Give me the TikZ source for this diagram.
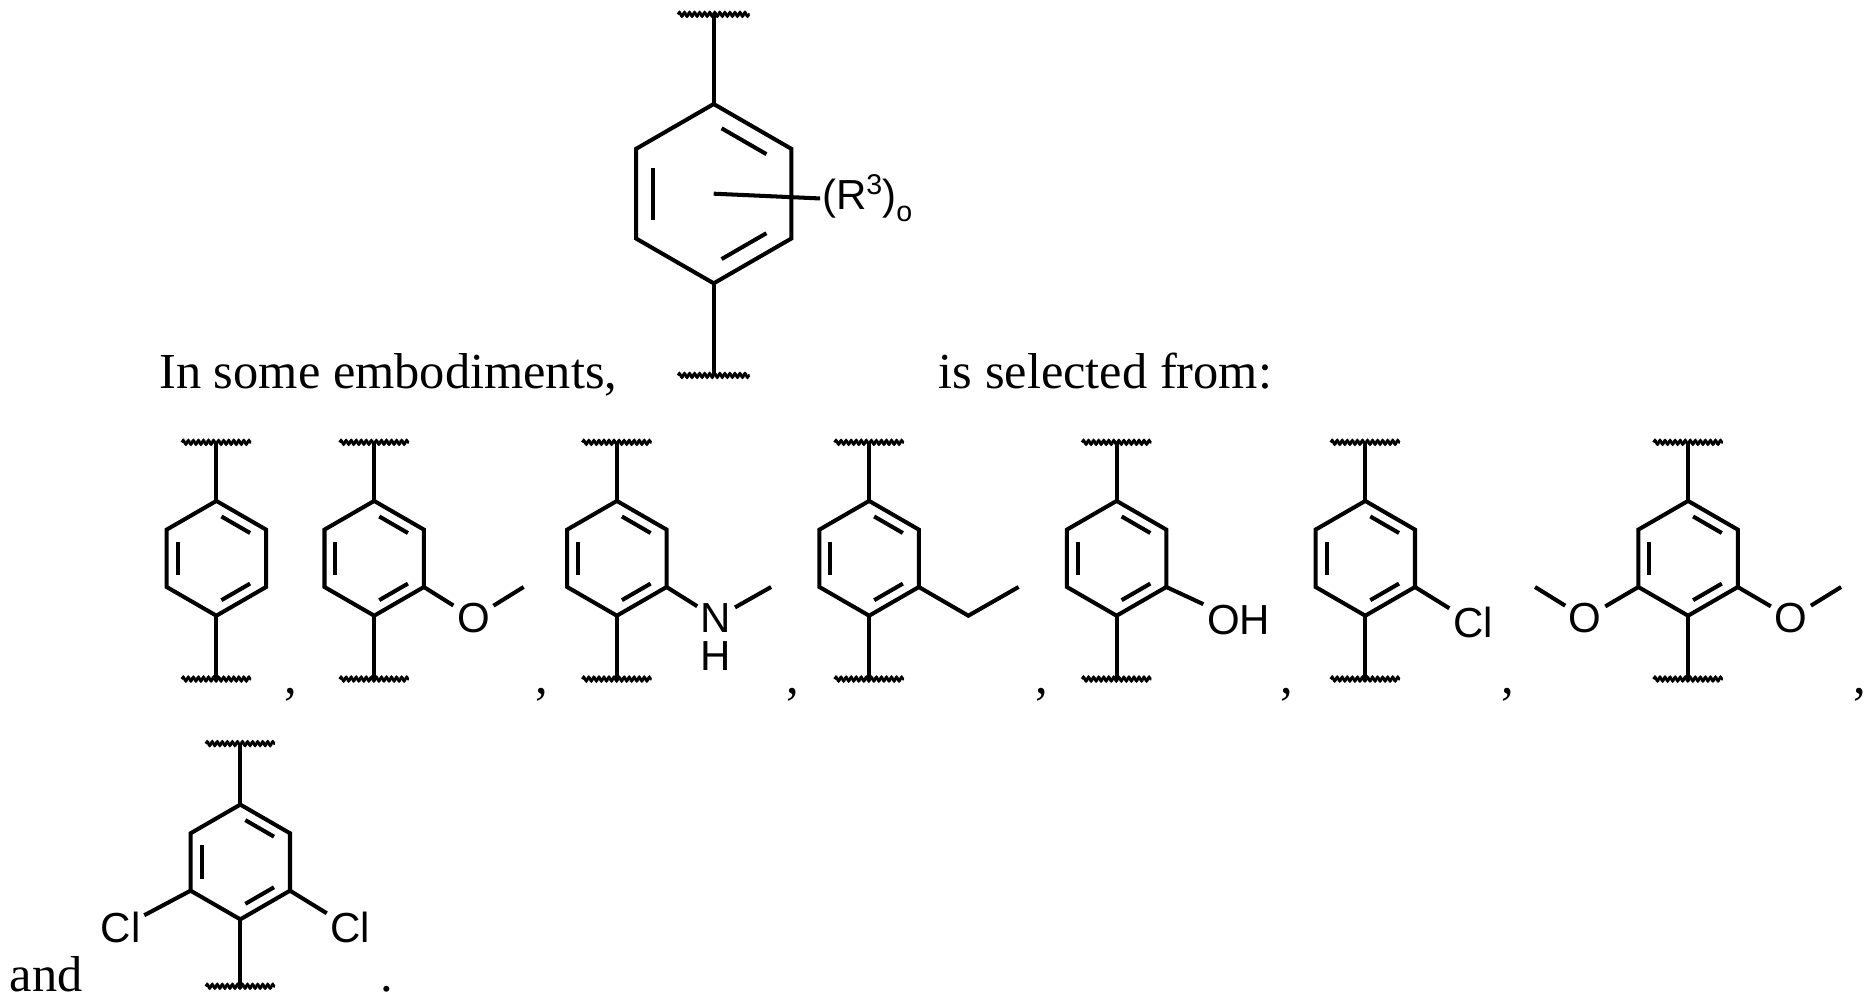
\documentclass[tikz,border=0pt]{standalone}
\usepackage{fontspec}
\setmainfont{Liberation Serif}
\setsansfont{Liberation Sans}
\usetikzlibrary{calc,decorations.pathmorphing}
\newcommand\Ring[4]{%
  \coordinate (#1c) at (#2,#3);
  \foreach \i/\a in {1/90,2/30,3/-30,4/-90,5/-150,6/150}{%
    \coordinate (#1v\i) at ($(#1c)+(\a:#4)$);
    \coordinate (#1i\i) at ($(#1c)+(\a:{0.78*#4})$);}
  \draw[bond] (#1v1)--(#1v2)--(#1v3)--(#1v4)--(#1v5)--(#1v6)--cycle;
  \draw[bond] ($(#1i1)!0.13!(#1i2)$)--($(#1i2)!0.13!(#1i1)$);
  \draw[bond] ($(#1i5)!0.13!(#1i6)$)--($(#1i6)!0.13!(#1i5)$);
  \draw[bond] ($(#1i3)!0.13!(#1i4)$)--($(#1i4)!0.13!(#1i3)$);}
\newcommand\Stems[5]{% name, x, ytop, ybottom, width
  \coordinate (#1t) at (#2,#3);
  \coordinate (#1b) at (#2,#4);
  \draw[bond] (#1v1)--(#1t);
  \draw[bond] (#1v4)--(#1b);
  \draw[wavy] ($(#1t)+(-#5/2,0)$)--($(#1t)+(#5/2,0)$);
  \draw[wavy] ($(#1b)+(-#5/2,0)$)--($(#1b)+(#5/2,0)$);}
\begin{document}
\begin{tikzpicture}[x=0.025cm,y=0.025cm,
  bond/.style={line width=2.4pt,line join=miter},
  wavy/.style={line width=1.6pt,decorate,decoration={snake,amplitude=1.2pt,segment length=3pt}},
  txt/.style={font=\fontsize{30}{36}\selectfont,anchor=base west,inner sep=0},
  atom/.style={font=\sffamily\fontsize{25}{28}\selectfont,inner sep=2pt}]
\useasboundingbox (0,0) rectangle (1560,-837);
% big molecule
\Ring{A}{597}{-162}{75}
\Stems{A}{597}{-12}{-314}{60}
\node[atom,anchor=west,inner sep=1pt] (R3) at (686,-166) {(R{\fontsize{17}{17}\selectfont\raisebox{0.5em}{3}})\raisebox{-0.3em}{\fontsize{17}{17}\selectfont o}};
\draw[bond] (Ac) -- (R3.west);
\node[txt] (t1) at (133,-325) {In some embodiments,};
\node[txt] (t2) at (785,-325) {is selected from:};
% row 2
\Ring{B}{181}{-467}{48}\Stems{B}{181}{-370}{-568}{58}
\Ring{C}{313}{-467}{48}\Stems{C}{313}{-370}{-568}{58}
\node[atom] (CO) at (396,-517) {O};
\coordinate (CM) at (438,-491);
\draw[bond] (Cv3)--(CO) (CO)--(CM);
\Ring{D}{516}{-467}{48}\Stems{D}{516}{-370}{-568}{58}
\node[atom] (DN) at (599,-517) {N};
\node[atom] (DH) at (599,-549) {H};
\coordinate (DM) at (645,-491);
\draw[bond] (Dv3)--(DN) (DN)--(DM);
\Ring{E}{727}{-467}{48}\Stems{E}{727}{-370}{-568}{58}
\coordinate (E1) at (810,-515);
\coordinate (E2) at (852,-491);
\draw[bond] (Ev3)--(E1)--(E2);
\Ring{F}{934}{-467}{48}\Stems{F}{934}{-370}{-568}{58}
\node[atom] (FO) at (1036,-519) {OH};
\draw[bond] (Fv3)--(FO);
\Ring{G}{1142}{-467}{48}\Stems{G}{1142}{-370}{-568}{58}
\node[atom] (GC) at (1232,-521) {Cl};
\draw[bond] (Gv3)--(GC);
\Ring{H}{1412}{-467}{48}\Stems{H}{1412}{-370}{-568}{58}
\node[atom] (HO1) at (1498,-517) {O};
\node[atom] (HO2) at (1326,-517) {O};
\coordinate (HM1) at (1540,-491);
\coordinate (HM2) at (1284,-491);
\draw[bond] (Hv3)--(HO1) (HO1)--(HM1) (Hv5)--(HO2) (HO2)--(HM2);
\foreach \cx [count=\k] in {238,448,658,866,1071,1256,1550}
  \node[txt] (comma\k) at (\cx,-580) {,};
% row 3
\Ring{K}{201}{-721}{48}\Stems{K}{201}{-622}{-825}{58}
\node[atom] (KL) at (101,-776) {Cl};
\node[atom] (KR) at (293,-776) {Cl};
\draw[bond] (Kv5)--(KL) (Kv3)--(KR);
\node[txt] (and) at (8,-829) {and};
\node[txt] (dot) at (318,-829) {.};
\end{tikzpicture}
\end{document}
